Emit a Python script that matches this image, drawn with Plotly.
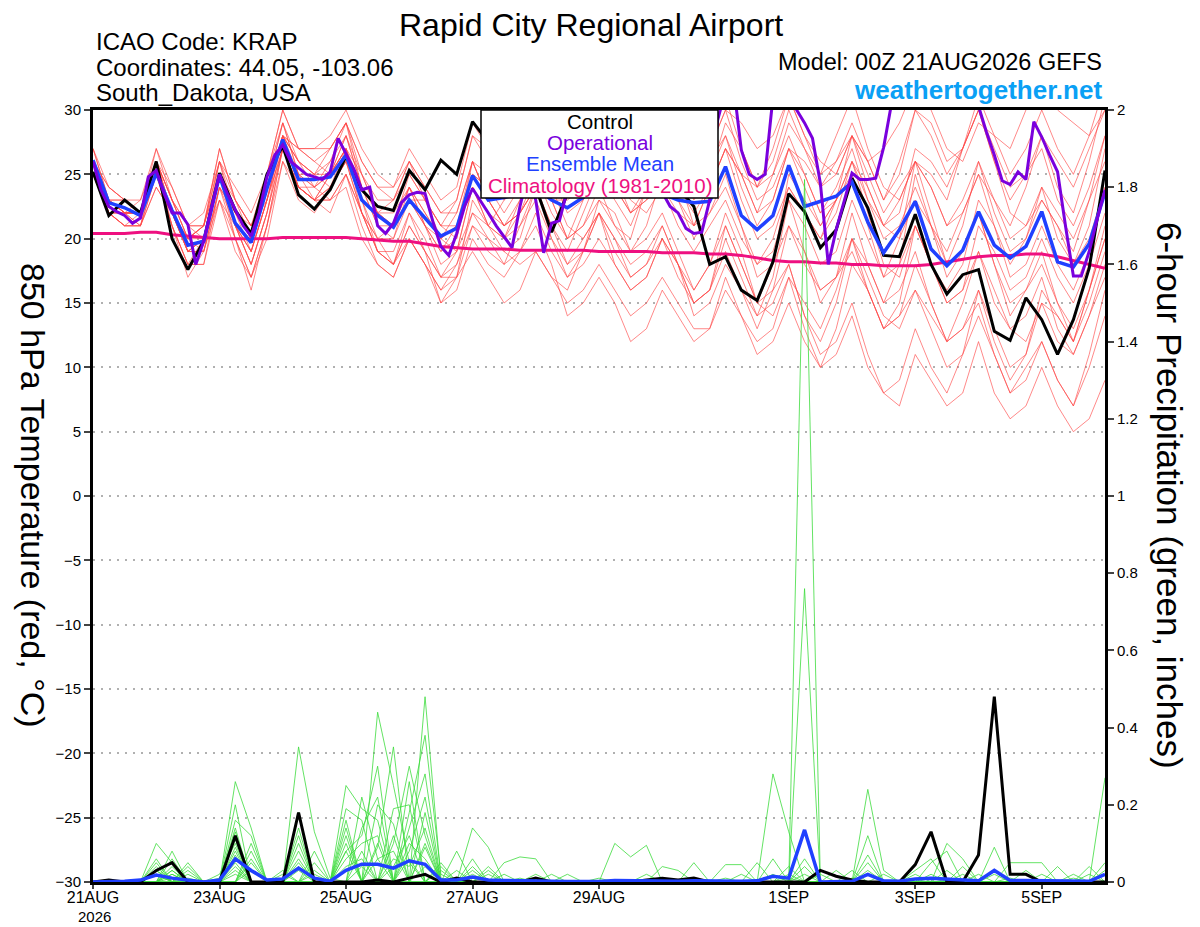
import pandas as pd
import plotly.graph_objects as go

# tiempos: GEFS cada 6 h, operacional cada 3 h
times = pd.date_range("2026-08-21 00:00", periods=65, freq="6h")
times_oper = pd.date_range("2026-08-21 00:00", periods=129, freq="3h")

tick_days = ["2026-08-21", "2026-08-23", "2026-08-25", "2026-08-27", "2026-08-29",
             "2026-09-01", "2026-09-03", "2026-09-05"]
tick_text = ["21AUG", "23AUG", "25AUG", "27AUG", "29AUG", "1SEP", "3SEP", "5SEP"]
year_text = "2026"

# temperatura 850 hPa (C)
control_t = [25.2, 21.8, 23.0, 22.0, 26.0, 20.0, 17.6, 19.8, 25.1, 22.2, 20.4, 25.0, 27.2, 23.4, 22.3, 23.8,
             26.4, 23.8, 22.5, 22.2, 25.3, 23.8, 26.1, 25.0, 29.1, 27.5, 26.0, 25.0, 24.0, 20.5, 23.5, 24.5,
             26.5, 25.5, 24.5, 26.0, 25.0, 24.0, 22.5, 18.0, 18.6, 16.0, 15.2, 18.2, 23.5, 22.1, 19.3, 20.7,
             24.7, 22.4, 18.7, 18.6, 21.9, 18.0, 15.7, 17.2, 17.6, 12.8, 12.1, 15.4, 13.7, 11.0, 13.7, 17.7, 25.3]
mean_t = [26.1, 22.8, 22.4, 21.8, 25.1, 22.2, 19.5, 19.8, 24.9, 21.2, 19.7, 23.9, 27.7, 24.6, 24.6, 24.8,
          26.5, 23.0, 21.8, 20.9, 23.0, 21.6, 20.2, 20.8, 24.9, 23.0, 23.2, 23.5, 24.0, 23.0, 22.4, 23.2,
          24.5, 23.8, 23.5, 24.5, 23.5, 23.0, 22.8, 22.9, 25.6, 21.8, 20.7, 21.8, 25.7, 22.5, 22.9, 23.3,
          24.4, 21.3, 18.9, 20.7, 22.9, 19.2, 17.9, 19.1, 22.1, 19.5, 18.5, 19.4, 22.1, 18.2, 17.8, 19.6, 23.6]
clim_t = [20.4, 20.4, 20.4, 20.5, 20.5, 20.3, 20.2, 20.1, 20.0, 20.0, 20.0, 20.0, 20.1, 20.1, 20.1, 20.1,
          20.1, 20.0, 19.9, 19.8, 19.8, 19.6, 19.4, 19.3, 19.2, 19.2, 19.2, 19.1, 19.1, 19.1, 19.1, 19.1,
          19.0, 19.0, 19.0, 19.0, 18.9, 18.9, 18.9, 18.8, 18.8, 18.7, 18.5, 18.3, 18.2, 18.2, 18.1, 18.1,
          18.0, 18.0, 17.9, 17.9, 17.9, 18.0, 18.2, 18.4, 18.6, 18.7, 18.7, 18.8, 18.8, 18.6, 18.3, 18.0, 17.7]
oper_t = [26.0, 23.8, 22.5, 22.1, 21.8, 21.2, 21.6, 24.8, 25.3, 23.5, 22.0, 22.0, 21.1, 18.0, 19.8, 22.5,
          25.0, 23.5, 22.2, 21.0, 20.2, 22.0, 24.8, 26.5, 27.3, 26.0, 25.5, 25.0, 24.8, 24.6, 25.2, 27.8,
          26.6, 25.4, 23.8, 24.0, 21.0, 20.4, 21.2, 22.8, 23.4, 23.6, 23.5, 21.3, 19.4, 18.7, 20.4, 22.5,
          23.9, 23.0, 22.0, 21.0, 20.1, 19.3, 22.5, 25.0, 23.0, 18.9, 21.2, 21.4, 23.8, 25.0, 26.2, 25.5,
          24.5, 24.0, 25.5, 26.8, 27.2, 26.0, 25.0, 24.0, 23.6, 22.5, 22.0, 20.8, 20.4, 20.5, 23.0, 29.2,
          31.5, 32.0, 26.9, 25.0, 24.6, 25.0, 31.0, 33.0, 32.5, 30.0, 29.0, 27.8, 24.3, 18.0, 20.7, 22.8,
          25.1, 24.6, 24.6, 24.7, 27.1, 30.5, 32.0, 33.0, 33.5, 32.5, 32.0, 33.0, 34.0, 34.0, 33.0, 31.5,
          30.3, 28.3, 26.5, 24.5, 24.2, 25.2, 24.6, 29.1, 27.9, 26.5, 25.2, 21.0, 17.1, 17.1, 19.0, 21.5, 23.8]

# miembros del ensamble (temperatura)
t01 = [26,24,23,22, 27,23,21,21, 27,23,21,25, 30,27,27,27, 29,26,24,23, 26,23,21,23, 28,26,25,27, 30,29,27,28, 31,28,26,27, 29,27,24,25, 28,25,24,27, 31,28,26,25, 28,26,27,29, 32,30,27,26, 29,28,27,30, 32,30,29,28, 30]
t02 = [25,22,21,22, 25,21,18,18, 23,20,17,21, 27,24,23,22, 25,21,18,17, 20,18,16,18, 22,20,19,18, 19,17,15,16, 18,16,14,15, 17,15,13,13, 16,14,12,13, 17,13,10,11, 14,10,8,7, 11,9,7,8, 12,8,6,7, 10,7,5,6, 9]
t03 = [27,23,22,23, 26,23,20,19, 24,22,20,24, 29,25,24,26, 28,24,21,21, 24,21,19,20, 26,23,21,22, 25,22,20,23, 26,25,23,22, 24,22,21,24, 27,23,20,21, 24,22,20,23, 26,23,21,20, 23,21,19,22, 25,23,20,21, 23,21,18,20, 24]
t04 = [26,22,21,21, 24,22,19,20, 26,22,19,23, 28,26,25,24, 26,22,20,21, 25,23,20,19, 22,21,23,25, 27,24,21,20, 22,20,18,19, 21,18,16,18, 22,19,15,14, 17,15,13,16, 20,17,14,13, 16,14,12,15, 19,16,13,12, 15,14,12,16, 20]
t05 = [25,23,23,22, 26,24,21,20, 25,23,21,24, 28,26,24,23, 25,22,19,19, 22,20,17,18, 21,19,18,21, 24,23,20,21, 23,21,20,24, 28,26,23,25, 29,27,24,26, 30,27,25,28, 31,27,24,23, 26,25,23,27, 30,26,22,21, 24,20,18,21, 27]
t06 = [26,23,22,22, 25,21,17,19, 24,20,16,21, 27,24,24,25, 27,23,20,18, 21,19,15,17, 23,21,20,21, 23,20,18,20, 22,18,16,17, 20,18,14,15, 18,16,13,16, 21,19,15,17, 22,18,15,18, 25,21,17,19, 22,18,14,16, 19,15,12,15, 19]
t07 = [26,24,23,23, 27,24,21,22, 26,21,19,23, 28,27,26,27, 29,25,22,22, 24,22,20,21, 26,25,24,27, 29,28,25,26, 30,29,26,28, 32,29,26,27, 30,26,23,24, 27,24,21,23, 26,22,18,17, 21,18,15,16, 19,15,13,14, 17,13,11,14, 18]
t08 = [25,22,22,21, 25,22,19,19, 23,19,17,20, 26,23,22,24, 26,23,19,18, 22,19,17,19, 24,22,20,22, 24,21,19,22, 25,24,22,23, 26,23,21,24, 27,25,22,23, 27,26,24,26, 29,26,23,26, 30,29,26,27, 31,28,25,27, 30,27,25,28, 32]
t09 = [26,23,22,22, 26,22,20,21, 27,23,20,25, 30,27,26,25, 28,24,21,20, 24,21,18,19, 24,22,21,22, 24,21,18,19, 22,20,17,18, 21,18,15,16, 20,17,14,15, 18,14,11,12, 15,11,8,9, 13,10,8,11, 16,13,10,11, 15,12,11,14, 17]
t10 = [26,22,21,21, 25,22,19,20, 25,21,18,22, 27,24,23,25, 28,25,23,23, 26,24,22,23, 28,27,26,27, 30,27,25,28, 31,30,28,30, 33,31,28,29, 31,27,24,25, 28,25,22,24, 27,23,20,21, 24,21,18,21, 26,22,19,20, 23,21,19,23, 26]
t11 = [27,24,23,22, 26,21,18,20, 25,20,17,21, 26,24,23,24, 26,22,19,18, 20,18,15,16, 20,18,17,19, 21,18,14,15, 17,15,12,13, 16,14,12,13, 17,14,11,12, 15,12,10,13, 18,16,13,15, 21,18,15,16, 21,19,16,17, 20,17,15,18, 22]
t12 = [25,22,21,21, 26,23,21,21, 26,24,22,25, 29,25,23,24, 27,25,22,21, 23,23,21,21, 24,21,20,23, 26,25,24,25, 28,25,22,24, 27,23,20,22, 25,21,18,19, 23,19,16,17, 20,16,13,14, 18,15,12,13, 15,11,8,9, 12,9,7,10, 14]
t13 = [26,23,22,22, 25,22,19,19, 24,21,19,23, 28,25,25,26, 29,26,24,24, 26,24,22,22, 26,23,21,23, 26,25,24,25, 27,24,22,23, 24,21,19,21, 23,20,18,20, 24,22,20,22, 26,24,21,22, 27,26,24,27, 30,26,23,25, 28,24,22,26, 31]
t14 = [26,22,22,22, 26,22,20,21, 25,21,18,22, 27,24,23,23, 25,22,19,18, 21,19,17,17, 19,17,15,16, 19,17,16,19, 23,22,19,21, 25,24,22,24, 27,25,22,25, 29,27,24,25, 28,24,21,23, 26,22,18,19, 22,18,15,16, 18,15,13,16, 20]
t15 = [25,23,22,22, 26,23,20,21, 25,22,20,24, 29,26,25,27, 29,24,22,21, 23,21,19,21, 24,21,19,20, 24,23,23,24, 27,26,24,27, 30,28,25,26, 28,24,21,23, 27,25,22,23, 25,21,17,18, 21,18,16,18, 23,21,18,20, 24,22,20,23, 28]
t16 = [26,23,22,22, 25,21,18,18, 24,22,20,24, 28,26,25,25, 27,23,22,23, 25,23,21,20, 25,24,22,24, 26,23,20,21, 24,21,19,20, 22,19,16,18, 21,18,15,16, 18,14,12,15, 20,18,15,16, 19,15,12,13, 16,12,9,11, 16,14,12,16, 21]
t17 = [27,23,22,22, 26,22,19,20, 25,21,18,22, 28,27,27,28, 30,27,25,24, 27,25,23,24, 29,27,25,27, 31,29,28,29, 32,29,27,28, 30,28,25,27, 30,29,27,28, 31,28,25,26, 28,25,22,24, 26,24,21,22, 25,21,17,18, 21,18,16,19, 24]
t18 = [25,22,22,21, 24,22,20,20, 23,21,19,23, 27,24,23,23, 24,20,18,17, 20,18,16,17, 21,20,18,19, 22,19,17,19, 22,19,17,18, 20,17,15,16, 19,16,14,17, 23,21,18,19, 23,20,17,20, 26,24,21,23, 26,23,21,24, 28,26,24,27, 30]
t19 = [26,23,23,22, 26,23,20,21, 26,23,21,24, 28,24,23,25, 27,22,20,20, 23,21,20,22, 26,23,21,22, 24,20,17,18, 20,18,16,17, 20,18,15,16, 21,18,15,18, 25,23,21,23, 28,26,23,25, 30,28,25,27, 30,27,24,25, 27,23,21,24, 28]
t20 = [26,23,22,22, 25,22,19,20, 25,22,21,23, 27,25,24,25, 27,24,22,21, 24,22,20,21, 25,24,23,24, 27,25,22,23, 25,23,21,24, 28,25,21,22, 24,21,17,18, 21,18,16,17, 19,16,13,14, 16,13,10,11, 14,11,8,10, 12,9,7,11, 16]

# precipitacion 6 h (pulgadas)
control_p = [0, .005, 0, 0, .03, .05, 0, 0, 0, .12, 0, 0, 0, .18, 0, 0, 0, 0, .005, 0, .01, .02, 0, .01,
             0, 0, 0, 0, .01, 0, 0, 0, 0, 0, 0, .005, .01, .005, .01, 0, 0, 0, 0, 0, 0, 0, .03, .015,
             .005, 0, 0, 0, .045, .13, 0, 0, .07, .48, .02, .02, 0, 0, 0, 0, 0]
mean_p = [0, 0, .002, .005, .018, .01, .005, 0, .005, .06, .03, .005, .008, .036, .01, .002,
          .03, .046, .046, .036, .055, .046, .005, .005, .013, .005, .004, .004, .003, .002, .001, 0,
          .001, .004, .003, .004, .002, .002, .003, .002, .002, .002, .003, .015, .01, .135, 0, .002,
          .002, .02, .003, .002, .008, .01, .008, .004, .003, .03, .004, .004, .003, .002, .001, .002, .02]

p01 = [0,0,0,0, .10,.05,0,0, 0,.26,.14,0, 0,.06,0,0, 0,0,.44,.25, .05,0,0,0, 0,0,0,0, 0,0,0,0, 0,0,0,0, 0,0,0,0, 0,0,0,.28, .13,0,0,0, 0,.24,.03,0, 0,0,0,0, 0,0,0,0, 0,0,0,0, 0]
p02 = [0,0,0,0, 0,.03,0,0, 0,.16,.12,0, 0,.35,.13,.01, 0,0,0,0, 0,.48,.01,0, 0,0,0,0, 0,0,0,0, 0,0,0,0, 0,0,0,0, 0,0,0,0, 0,1.82,0,0, 0,0,0,0, 0,0,.10,.06, 0,0,0,0, 0,0,0,0, 0]
p03 = [0,0,0,0, .05,0,.05,0, 0,.13,0,0, 0,0,0,0, .25,.19,.16,0, 0,.18,0,0, .14,.09,0,0, 0,0,0,0, 0,0,0,0, 0,0,0,0, 0,0,0,0, 0,.76,0,0, 0,0,0,0, 0,0,0,0, 0,0,0,0, 0,0,0,0, .27]
p04 = [0,0,0,0, 0,.06,0,0, 0,.14,0,0, .02,0,0,0, .19,.16,0,0, .26,0,0,0, .06,0,0,0, 0,0,0,0, 0,.10,.065,.095, 0,0,0,0, 0,0,0,0, 0,0,0,0, 0,0,0,0, 0,0,0,0, 0,.09,0,0, 0,0,0,0, 0]
p05 = [0,0,0,0, .04,0,0,0, .02,.10,0,0, 0,.08,0,0, 0,0,0,.19, .20,0,0,0, 0,0,.05,.065, .06,0,0,0, 0,0,0,0, 0,0,0,0, 0,0,.05,0, 0,0,0,0, 0,.12,0,0, 0,0,0,0, 0,0,0,0, 0,0,0,.04, 0]
p06 = [0,0,0,0, 0,0,.03,0, 0,0,.08,0, 0,0,0,0, .06,.10,.12,0, 0,.10,0,.08, 0,0,0,0, 0,0,0,0, 0,0,0,0, 0,0,.05,0, .045,.045,0,0, 0,0,0,0, 0,0,0,0, 0,.05,.08,0, 0,0,0,0, 0,0,0,0, 0]
p07 = [0,0,0,0, 0,.08,0,0, 0,.20,0,0, 0,0,.05,0, 0,0,.20,.15, 0,0,.05,0, 0,.04,0,0, 0,0,0,0, 0,0,0,0, .04,.03,0,0, 0,0,0,0, 0,.06,0,0, 0,0,0,0, 0,0,0,0, 0,0,.05,.05, .05,0,0,0, 0]
p08 = [0,0,0,0, .02,0,0,0, 0,.07,0,0, 0,.12,0,0, 0,.08,0,0, .14,.28,0,0, 0,0,0,0, 0,.02,0,0, 0,0,0,0, 0,0,0,0, 0,0,0,0, .02,0,0,.03, 0,.07,0,0, 0,0,0,.04, 0,0,0,0, 0,.04,0,0, 0]
p09 = [0,0,0,0, 0,.02,0,0, 0,0,.05,0, 0,0,0,0, .14,0,0,.10, .30,.12,0,0, .04,0,0,0, 0,0,0,0, 0,0,0,0, 0,0,0,0, 0,0,0,.06, 0,0,0,0, .03,0,0,0, .03,.06,0,0, 0,0,0,0, 0,0,0,0, 0]
p10 = [0,0,0,0, 0,0,.02,0, 0,.11,0,0, 0,.04,0,0, 0,.22,.06,0, 0,0,.03,0, 0,0,0,0, 0,0,.02,0, 0,0,0,.02, 0,0,0,0, 0,0,0,0, 0,0,0,0, 0,0,.02,0, 0,0,0,0, .02,0,0,0, 0,0,.02,0, 0]
p11 = [0,0,0,0, .03,0,0,0, 0,.05,0,0, 0,0,.08,0, .08,.12,.30,0, .06,0,0,0, 0,.03,0,0, 0,0,0,0, 0,0,0,0, 0,0,0,0, 0,0,0,0, .04,0,0,0, 0,0,0,0, .02,0,0,0, 0,0,0,0, 0,0,0,0, .03]
p12 = [0,0,0,0, 0,.04,0,0, 0,0,.03,0, 0,.14,0,0, 0,0,.09,.35, 0,.09,0,0, .02,0,0,0, 0,0,0,0, 0,0,0,0, 0,0,0,0, 0,.02,0,0, 0,0,0,0, 0,.05,0,0, 0,0,0,0, 0,.03,0,0, 0,0,0,0, 0]
p13 = [0,0,0,0, .06,0,0,0, 0,.09,0,0, .03,0,0,0, .10,0,0,0, .18,.38,.02,0, 0,0,0,0, 0,0,0,0, 0,0,0,0, 0,0,0,0, 0,0,0,0, 0,.04,0,0, 0,0,0,0, 0,.02,0,0, 0,0,0,0, .02,0,0,0, 0]
p14 = [0,0,0,0, 0,.01,0,0, 0,.03,0,0, 0,.10,0,0, .04,.06,0,.12, 0,0,0,.03, 0,0,0,0, 0,0,0,0, 0,0,0,0, 0,0,0,0, 0,0,0,0, 0,0,.02,0, 0,0,0,0, 0,0,.03,0, 0,0,0,0, 0,0,0,0, 0]
p15 = [0,0,0,0, 0,0,.04,0, 0,0,.10,0, 0,0,.03,0, 0,0,.10,0, .08,.22,0,0, 0,0,.02,0, 0,0,0,0, 0,0,0,0, 0,0,0,0, 0,0,0,.02, 0,0,0,0, 0,0,0,0, 0,0,0,0, 0,0,0,.03, 0,0,0,.02, 0]
p16 = [0,0,0,0, .03,0,0,0, 0,.04,0,0, 0,.18,0,0, .12,0,.06,.08, 0,0,0,0, .03,0,0,0, 0,0,0,0, .01,0,0,0, 0,0,0,0, 0,0,0,0, 0,0,0,0, 0,.03,0,0, 0,0,0,.02, 0,0,0,0, 0,0,0,0, 0]
p17 = [0,0,0,0, 0,.02,0,0, .01,.12,0,0, 0,0,0,0, 0,.04,0,0, .10,.06,0,0, 0,0,0,0, .02,0,0,0, 0,0,0,0, 0,0,0,0, 0,0,0,0, 0,.02,0,0, 0,0,0,0, 0,0,0,0, 0,.02,0,0, 0,0,0,0, .05]
p18 = [0,0,0,0, 0,0,.01,0, 0,0,.06,0, 0,.03,0,0, .08,0,0,.04, .12,0,.04,0, 0,0,0,0, 0,0,0,0, 0,0,0,0, 0,0,0,0, .01,0,0,0, 0,0,0,0, 0,0,0,0, 0,.01,0,0, 0,0,0,0, 0,0,0,0, 0]
p19 = [0,0,0,0, .02,0,0,0, 0,.08,0,0, 0,0,.02,0, 0,.14,.22,0, 0,.04,0,0, 0,0,0,.01, 0,0,0,0, 0,0,0,0, 0,0,0,0, 0,0,0,0, .01,0,0,0, 0,0,0,0, 0,0,0,0, 0,0,0,0, 0,0,.01,0, 0]
p20 = [0,0,0,0, 0,.03,0,0, 0,.02,0,0, 0,.05,0,0, .16,0,0,.06, .04,.14,0,0, 0,.02,0,0, 0,0,0,0, 0,0,0,0, 0,0,0,0, 0,0,0,0, 0,0,0,0, .01,0,0,0, 0,0,0,0, 0,0,.01,0, 0,0,0,0, 0]

temp_members = [t01, t02, t03, t04, t05, t06, t07, t08, t09, t10,
                t11, t12, t13, t14, t15, t16, t17, t18, t19, t20]
precip_members = [p01, p02, p03, p04, p05, p06, p07, p08, p09, p10,
                  p11, p12, p13, p14, p15, p16, p17, p18, p19, p20]

legend_lines = ["Control", "Operational", "Ensemble Mean", "Climatology (1981-2010)"]

# colores
ROJO = "rgba(255,70,70,0.8)"
VERDE = "rgb(60,220,60)"
NEGRO = "black"
MORADO = "#7a00dd"
AZUL = "#2040ff"
ROSA = "#ee1080"
FUENTE = "Liberation Sans, Arial, sans-serif"

fig = go.Figure()

for m in temp_members:
    fig.add_trace(go.Scatter(x=times, y=m, mode="lines", line=dict(color=ROJO, width=0.8),
                             hoverinfo="skip"))
fig.add_trace(go.Scatter(x=times, y=clim_t, mode="lines", line=dict(color=ROSA, width=3)))
fig.add_trace(go.Scatter(x=times, y=control_t, mode="lines", line=dict(color=NEGRO, width=3)))
fig.add_trace(go.Scatter(x=times, y=mean_t, mode="lines", line=dict(color=AZUL, width=3.5)))
fig.add_trace(go.Scatter(x=times_oper, y=oper_t, mode="lines", line=dict(color=MORADO, width=3)))

for m in precip_members:
    fig.add_trace(go.Scatter(x=times, y=m, mode="lines", yaxis="y2",
                             line=dict(color=VERDE, width=0.8), hoverinfo="skip"))
fig.add_trace(go.Scatter(x=times, y=control_p, mode="lines", yaxis="y2", line=dict(color=NEGRO, width=3)))
fig.add_trace(go.Scatter(x=times, y=mean_p, mode="lines", yaxis="y2", line=dict(color=AZUL, width=3.5)))

# posiciones en pixeles de la ventana -> papel (la pagina tiene 8 px de margen)
OFF = 8
W, H = 1200 - OFF, 927 - OFF
L, R, T, B = 93, 1105, 110, 882
def px(x):
    return (x - L) / (R - L)
def py(y):
    return (B - y) / (B - T)

def texto(x, y, s, size, anchor="left", color="black", angle=0):
    fig.add_annotation(x=px(x), y=py(y), xref="paper", yref="paper", text=s, showarrow=False,
                       xanchor=anchor, yanchor="middle", textangle=angle,
                       font=dict(size=size, color=color, family=FUENTE))

texto(591, 25, "Rapid City Regional Airport", 32, "center")
texto(94, 42, "ICAO Code: KRAP", 24)
texto(94, 67, "Coordinates: 44.05, -103.06", 24)
texto(94, 93, "South_Dakota, USA", 24)
texto(1104, 62, "Model: 00Z 21AUG2026 GEFS", 23.5, "right")
texto(1104, 90, "<b>weathertogether.net</b>", 26, "right", "#0aa0f5")
texto(33, 495, "850 hPa Temperature (red, °C)", 34, "center", angle=90)
texto(1170, 495, "6-hour Precipitation (green, inches)", 35, "center", angle=90)
texto(94, 916, year_text, 15, "center")

# leyenda en caja
fig.add_shape(type="rect", xref="paper", yref="paper", x0=px(481), x1=px(718), y0=py(198), y1=1,
              fillcolor="white", line=dict(color="black", width=1.5), layer="above")
for s, c, yy in zip(legend_lines, [NEGRO, MORADO, AZUL, ROSA], [121, 142, 163, 185]):
    texto(599.5, yy, s, 20.5, "center", c)

ejes = dict(automargin=False, zeroline=False, showline=True, linewidth=3, linecolor="black",
            ticks="outside", tickwidth=1.5)

fig.update_layout(
    width=W, height=H,
    margin=dict(l=L - OFF, r=W - (R - OFF), t=T - OFF, b=H - (B - OFF)),
    paper_bgcolor="white", plot_bgcolor="white",
    showlegend=False,
    font=dict(family=FUENTE, color="black"),
    xaxis=dict(range=[times[0], times[-1]], tickvals=tick_days, ticktext=tick_text,
               tickfont=dict(size=16), ticklen=4, ticklabelstandoff=-5,
               showgrid=False, mirror=True, **ejes),
    yaxis=dict(range=[-30, 30], dtick=5, tickfont=dict(size=15), ticklen=6,
               showgrid=True, gridcolor="#b0b0b0", griddash="2px,6px", gridwidth=1.5, **ejes),
    yaxis2=dict(range=[0, 2], dtick=0.2, overlaying="y", side="right",
                tickfont=dict(size=15), ticklen=6, showgrid=False, **ejes),
)

fig.write_html("out.html")
